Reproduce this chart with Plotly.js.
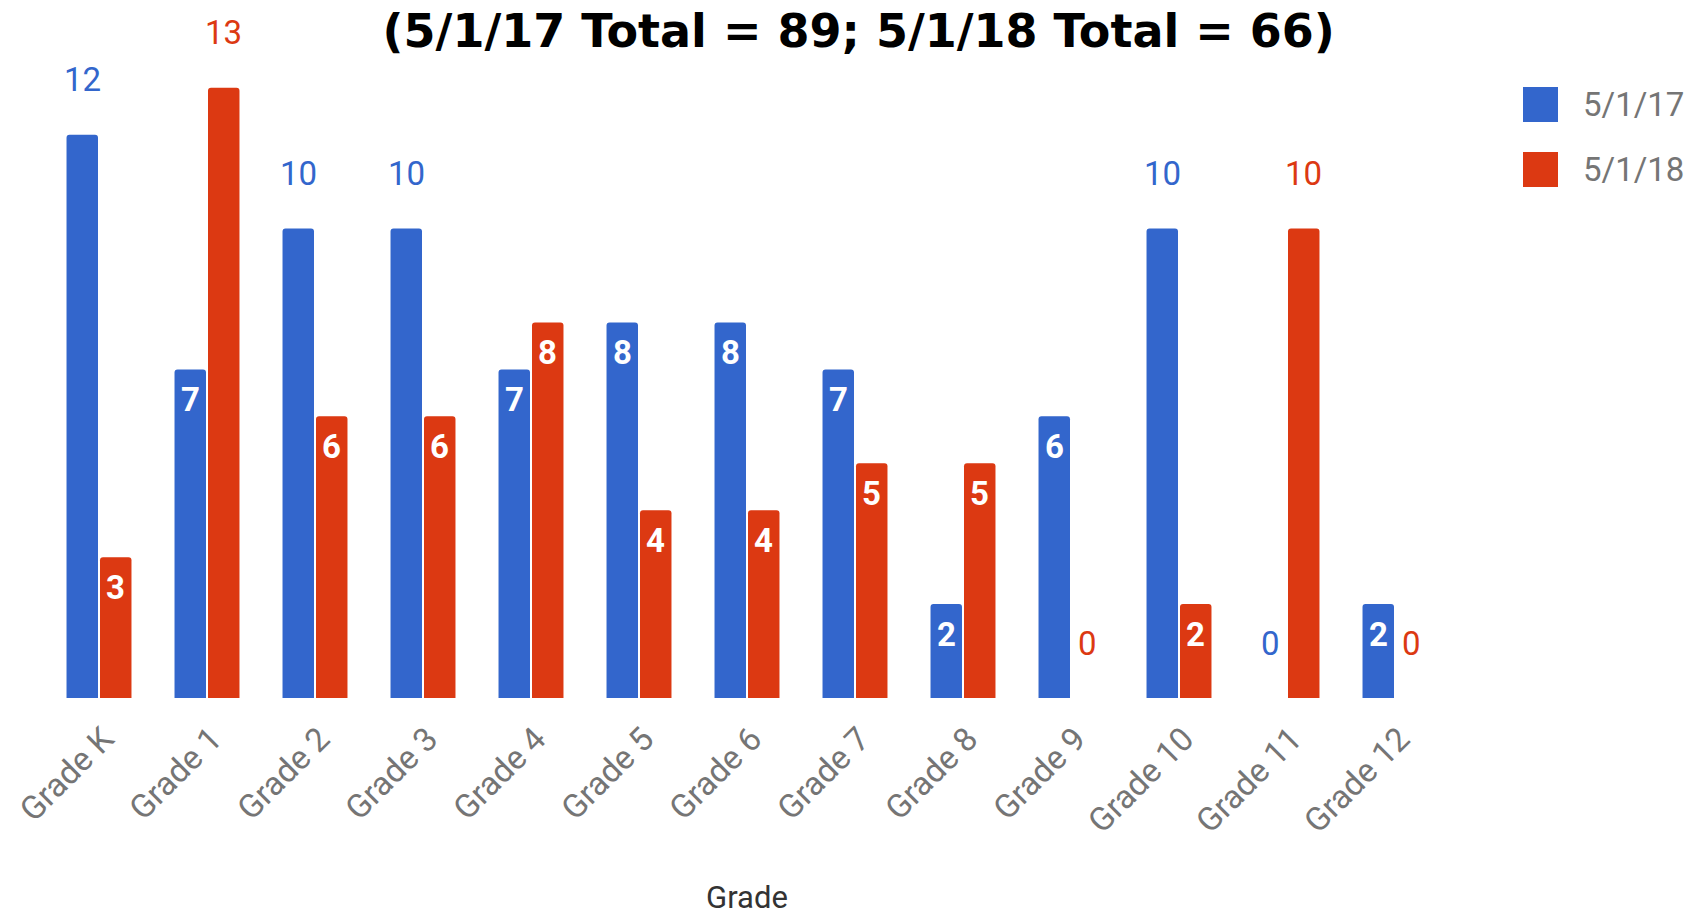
<!DOCTYPE html>
<html>
<head>
<meta charset="utf-8">
<script src="https://cdn.plot.ly/plotly-3.0.1.min.js"></script>
<style>html,body{margin:0;padding:0;background:#fff;}#chart{width:1697px;height:916px;}</style>
</head>
<body>
<div id="chart"></div>
<script>
// ---- data ----
const categories = ['Grade K','Grade 1','Grade 2','Grade 3','Grade 4','Grade 5','Grade 6','Grade 7','Grade 8','Grade 9','Grade 10','Grade 11','Grade 12'];
const seriesNames = ['5/1/17','5/1/18'];
const values2017 = [12,7,10,10,7,8,8,7,2,6,10,0,2];
const values2018 = [3,13,6,6,8,4,4,5,5,0,2,10,0];
const chartTitle = '(5/1/17 Total = 89; 5/1/18 Total = 66)';
const xTitle = 'Grade';

// ---- styling ----
const colors = ['#3366cc','#dc3912'];
const W = 1697, H = 916;
const margin = {l:45, r:248, t:60, b:218};
const bargap = 0.38, bargroupgap = 0.06;
const plotW = W - margin.l - margin.r;
const catPx = plotW / categories.length;
const slotPx = (1 - bargap) * catPx / 2;
const series = [values2017, values2018];

const traces = series.map((vals, i) => ({
  type: 'bar',
  name: seriesNames[i],
  x: categories,
  y: vals,
  marker: {color: colors[i]},
  showlegend: false,
  hoverinfo: 'x+y+name'
}));

const annotations = [];
series.forEach((vals, i) => {
  const xs = (i === 0 ? -1 : 1) * slotPx / 2;
  vals.forEach((v, j) => {
    const inside = v > 0 && v < 10;
    annotations.push({
      xref: 'x', yref: 'y', x: categories[j], y: v,
      text: String(v), showarrow: false,
      xshift: xs, yshift: inside ? -30 : 55,
      xanchor: 'center', yanchor: 'middle',
      font: inside ? {family: 'Roboto, Arial, sans-serif', size: 33, color: '#ffffff', weight: 'bold'}
                   : {family: 'Roboto, Arial, sans-serif', size: 33, color: colors[i]}
    });
  });
});

// legend (manual, large swatches)
const shapes = [];
seriesNames.forEach((nm, i) => {
  shapes.push({
    type: 'rect', xref: 'paper', yref: 'paper', xsizemode: 'pixel', ysizemode: 'pixel',
    xanchor: 1, yanchor: 1, x0: 74, x1: 109, y0: -27 - 65 * i, y1: -62 - 65 * i,
    fillcolor: colors[i], line: {width: 0}
  });
  annotations.push({
    xref: 'paper', yref: 'paper', x: 1, y: 1, xshift: 132, yshift: -44.5 - 65 * i,
    xanchor: 'left', yanchor: 'middle', showarrow: false, text: nm,
    font: {family: 'Roboto, Arial, sans-serif', size: 33, color: '#757575'}
  });
});

const layout = {
  width: W, height: H, margin: margin,
  paper_bgcolor: '#ffffff', plot_bgcolor: '#ffffff',
  barmode: 'group', bargap: bargap, bargroupgap: bargroupgap, barcornerradius: 3,
  showlegend: false,
  title: {
    text: chartTitle, x: 0.506, xref: 'container', xanchor: 'center',
    y: 0.966, yref: 'container', yanchor: 'middle',
    font: {family: 'DejaVu Sans, sans-serif', size: 46, color: '#000000', weight: 'bold'}
  },
  xaxis: {
    type: 'category', tickangle: -45, showline: false, showgrid: false, ticks: '',
    ticklabelstandoff: 14, ticklabelshift: 5,
    tickfont: {family: 'Roboto, Arial, sans-serif', size: 33, color: '#757575'},
    title: {text: xTitle, standoff: 52, font: {family: 'Roboto, Arial, sans-serif', size: 31, color: '#333333'}},
    automargin: false
  },
  yaxis: {
    range: [0, 13.59], showticklabels: false, showgrid: false, zeroline: false,
    showline: false, ticks: '', automargin: false
  },
  annotations: annotations,
  shapes: shapes
};

Plotly.newPlot('chart', traces, layout, {displayModeBar: false, staticPlot: true});
</script>
</body>
</html>
